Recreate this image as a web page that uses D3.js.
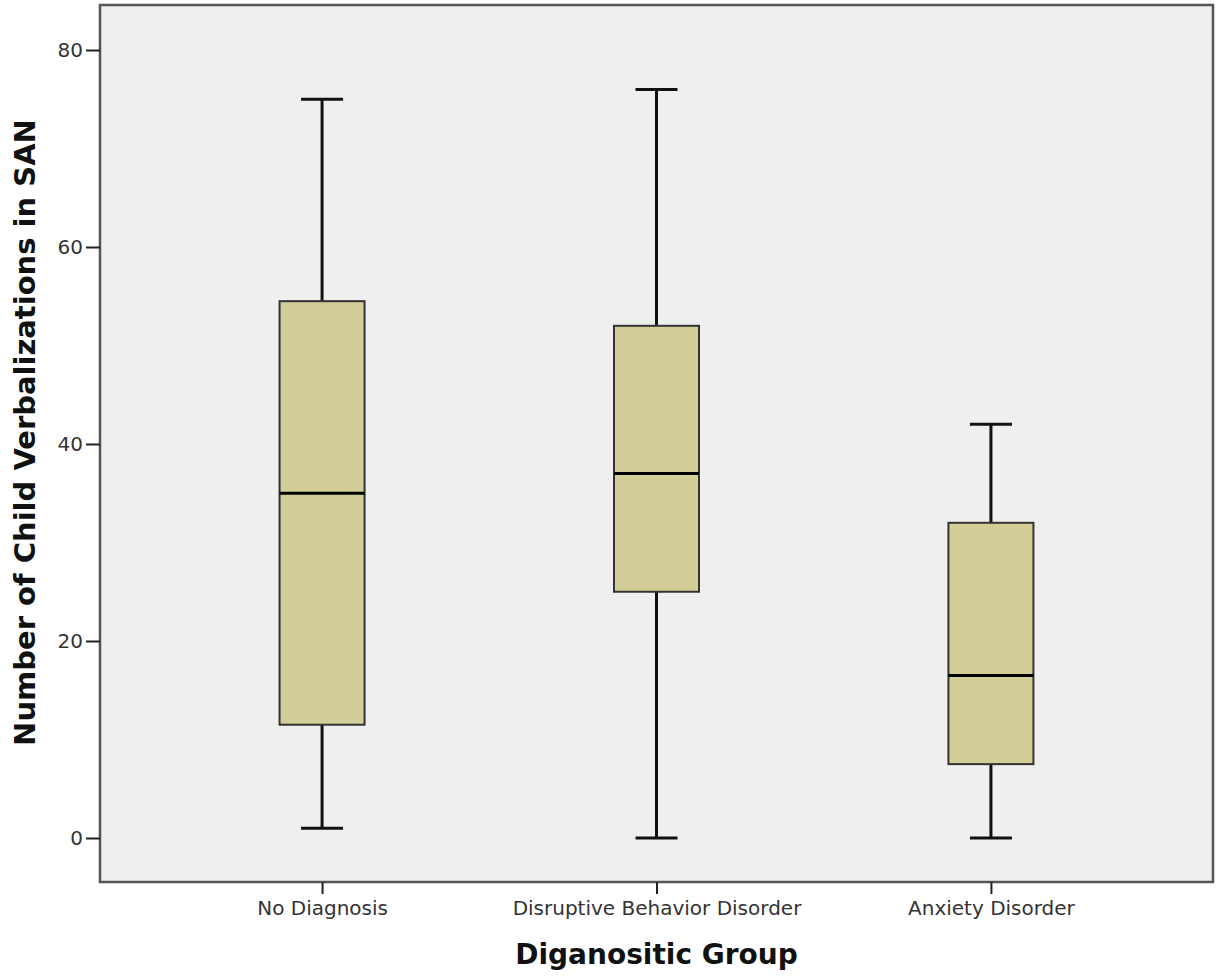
<!DOCTYPE html>
<html><head><meta charset="utf-8">
<script src="https://cdn.jsdelivr.net/npm/d3@7"></script>
<style>body{margin:0;background:#fff;} svg{display:block;}</style>
</head><body>
<script>
const categories = ["No Diagnosis", "Disruptive Behavior Disorder", "Anxiety Disorder"];
const whiskerLow = [1, 0, 0];
const q1 = [11.5, 25, 7.5];
const median = [35, 37, 16.5];
const q3 = [54.5, 52, 32];
const whiskerHigh = [75, 76, 42];
const yTicks = [0, 20, 40, 60, 80];

const W = 1219, H = 976;
const plot = {left: 100, right: 1213, top: 5, bottom: 882};
const svg = d3.select("body").append("svg").attr("width", W).attr("height", H);

const y = d3.scaleLinear().domain([0, 80]).range([838, 50]);
const x = d3.scalePoint().domain(categories).range([plot.left, plot.right]).padding(0.664);

svg.append("rect").attr("x", plot.left).attr("y", plot.top)
  .attr("width", plot.right - plot.left).attr("height", plot.bottom - plot.top)
  .attr("fill", "#efefef").attr("stroke", "#555").attr("stroke-width", 2.5);

const data = categories.map((c, i) => ({c, lo: whiskerLow[i], q1: q1[i], med: median[i], q3: q3[i], hi: whiskerHigh[i]}));
const boxW = 85, capW = 42;
const g = svg.append("g");
data.forEach(d => {
  const cx = x(d.c);
  g.append("line").attr("x1", cx).attr("x2", cx).attr("y1", y(d.hi)).attr("y2", y(d.lo))
    .attr("stroke", "#111").attr("stroke-width", 3);
  [d.hi, d.lo].forEach(v => g.append("line").attr("x1", cx - capW/2).attr("x2", cx + capW/2)
    .attr("y1", y(v)).attr("y2", y(v)).attr("stroke", "#111").attr("stroke-width", 3));
  g.append("rect").attr("x", cx - boxW/2).attr("y", y(d.q3)).attr("width", boxW)
    .attr("height", y(d.q1) - y(d.q3)).attr("fill", "#d3ce97").attr("stroke", "#333").attr("stroke-width", 2);
  g.append("line").attr("x1", cx - boxW/2).attr("x2", cx + boxW/2).attr("y1", y(d.med)).attr("y2", y(d.med))
    .attr("stroke", "#000").attr("stroke-width", 3);
});

const yAxis = svg.append("g").attr("transform", `translate(${plot.left},0)`)
  .call(d3.axisLeft(y).tickValues(yTicks).tickSize(14).tickPadding(3));
yAxis.select(".domain").remove();
yAxis.selectAll("line").attr("stroke", "#222").attr("stroke-width", 2);
yAxis.selectAll("text").attr("font-family", "DejaVu Sans").attr("font-size", 20).attr("fill", "#333");

const xAxis = svg.append("g").attr("transform", `translate(0,${plot.bottom})`)
  .call(d3.axisBottom(x).tickSize(12).tickPadding(7));
xAxis.select(".domain").remove();
xAxis.selectAll("line").attr("stroke", "#222").attr("stroke-width", 2);
xAxis.selectAll("text").attr("font-family", "DejaVu Sans").attr("font-size", 20).attr("fill", "#333");

svg.append("text").attr("x", (plot.left + plot.right)/2).attr("y", 964).attr("text-anchor", "middle")
  .attr("font-family", "DejaVu Sans").attr("font-weight", "bold").attr("font-size", 28).attr("fill", "#111")
  .text("Diganositic Group");
svg.append("text").attr("transform", `translate(35,${(120+745)/2}) rotate(-90)`).attr("text-anchor", "middle")
  .attr("font-family", "DejaVu Sans").attr("font-weight", "bold").attr("font-size", 29).attr("fill", "#111")
  .text("Number of Child Verbalizations in SAN");
</script>
</body></html>
